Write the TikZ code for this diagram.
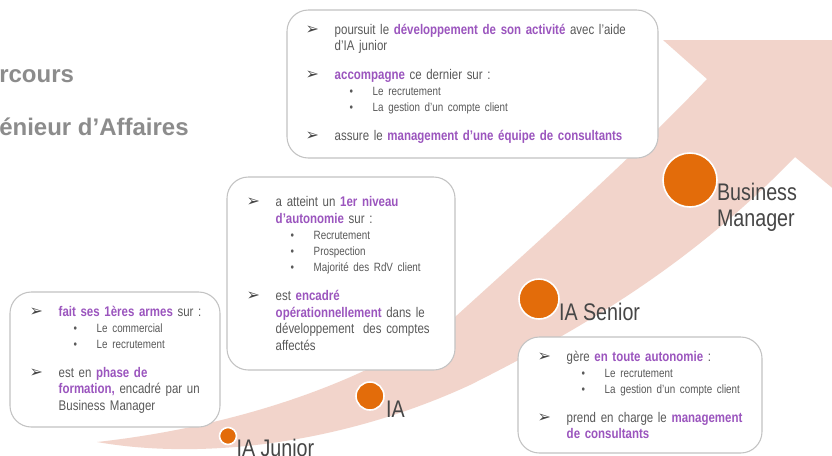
\documentclass[tikz,border=0pt]{standalone}
\usepackage{fontspec}
\setmainfont{Liberation Sans}[FakeStretch=0.82]
\newfontfamily\ttlfont{Liberation Sans}
\newfontfamily\arrfont{DejaVu Sans}
\usetikzlibrary{calc}
\definecolor{bandpink}{RGB}{242,212,203}
\definecolor{dotorange}{RGB}{227,108,10}
\definecolor{cardgray}{RGB}{195,195,195}
\definecolor{txtgray}{RGB}{89,89,89}
\definecolor{lblgray}{RGB}{70,70,70}
\definecolor{ttlgray}{RGB}{140,140,140}
\definecolor{hlpurple}{RGB}{155,85,190}

\newlength\mkw \setlength\mkw{21.75pt}
\newcommand\mainsz{\fontsize{10.5}{12.4}\selectfont}
\newcommand\subsz{\fontsize{9}{12}\selectfont}
\newcommand\mkarr{\makebox[\mkw][l]{\arrfont\fontsize{12}{12}\selectfont\color{lblgray}➢}}
\newcommand\indt{\hspace*{\mkw}}
\newcommand\subit{\hspace*{\mkw}\hspace*{11.25pt}\makebox[17.25pt][l]{•}}
\newcommand\hlt[1]{\textbf{\color{hlpurple}#1}}
\newcommand\itemgap{\par\vspace{9.4pt}}

\tikzset{
	card/.style={draw=cardgray, fill=white, line width=0.8pt, rounded corners=16pt},
	cardtxt/.style={anchor=west, text width=250pt, align=left, inner sep=0pt, text=txtgray, font=\mainsz},
	dot/.style={circle, fill=dotorange, draw=white, line width=1.2pt, inner sep=0pt},
	lbl/.style={inner sep=0pt, text=lblgray, font=\fontsize{18}{19.5}\selectfont},
	ttl/.style={inner sep=0pt, text=ttlgray, font=\ttlfont\bfseries\fontsize{18}{20}\selectfont}
}

\begin{document}
\begin{tikzpicture}[x=0.75pt, y=-0.75pt]
		\useasboundingbox (0,0) rectangle (832,455);
		\fill[white] (0,0) rectangle (832,455);
%
		\fill[bandpink] (97,442) .. controls (250,425) and (380,375) .. (455,317)
			.. controls (540,240) and (640,150) .. (707,79)
			-- (663,40) -- (860,40) -- (860,211) -- (795,157)
			.. controls (700,255) and (600,320) .. (470,385)
			.. controls (340,445) and (200,460) .. (97,442) -- cycle;
%
		\node[ttl, anchor=base west] (ttlA) at (-1,82) {rcours};
		\node[ttl, anchor=base west] (ttlB) at (-1,135) {énieur d’Affaires};
%
		\node[dot, minimum size=12.75pt] (cJ) at (228,436) {};
		\node[dot, minimum size=21pt] (cIA) at (370,396) {};
		\node[dot, minimum size=30pt] (cS) at (539,299) {};
		\node[dot, minimum size=40.5pt] (cBM) at (690,180) {};
		\node[lbl, anchor=base west] (lJ) at ($(cJ.east)+(-1,20)$) {IA Junior};
		\node[lbl, anchor=base west] (lIA) at ($(cIA.east)+(1,21)$) {IA};
		\node[lbl, anchor=base west] (lS) at ($(cS.east)+(-1,21)$) {IA Senior};
		\node[lbl, anchor=north west, align=left] (lBM) at ($(cBM.east)+(-1,3)$) {Business\\Manager};
%
		\node[card, minimum width=278.25pt, minimum height=111pt] (bBM) at (472.5,84) {};
		\node[cardtxt] (tBM) at ($(bBM.west)+(19,0)$) {%
			\mkarr poursuit le \hlt{développement de son activité} avec l’aide\\
			\indt d’IA junior\itemgap
			\mkarr\hlt{accompagne} ce dernier sur :\par
			{\subsz\subit Le recrutement\\ \subit La gestion d’un compte client\par}\itemgap
			\mkarr assure le \hlt{management d’une équipe de consultants}};
%
		\node[card, minimum width=171pt, minimum height=144.75pt] (bIA) at (341,273.5) {};
		\node[cardtxt] (tIA) at ($(bIA.west)+(20,0)$) {%
			\mkarr a atteint un \hlt{1er niveau}\\
			\indt\hlt{d’autonomie} sur :\par
			{\subsz\subit Recrutement\\ \subit Prospection\\ \subit Majorité des RdV client\par}\itemgap
			\mkarr est \hlt{encadré}\\
			\indt\hlt{opérationnellement} dans le\\
			\indt développement\hspace{0.3em} des comptes\\
			\indt affectés};
%
		\node[card, minimum width=157.5pt, minimum height=101.25pt] (bJ) at (115,359.5) {};
		\node[cardtxt] (tJ) at ($(bJ.west)+(20,0)$) {%
			\mkarr\hlt{fait ses 1ères armes} sur :\par
			{\subsz\subit Le commercial\\ \subit Le recrutement\par}\itemgap
			\mkarr est en \hlt{phase de}\\
			\indt\hlt{formation,} encadré par un\\
			\indt Business Manager};
%
		\node[card, minimum width=183pt, minimum height=87pt] (bS) at (640,395) {};
		\node[cardtxt] (tS) at ($(bS.west)+(20,0)$) {%
			\mkarr gère \hlt{en toute autonomie} :\par
			{\subsz\subit Le recrutement\\ \subit La gestion d’un compte client\par}\itemgap
			\mkarr prend en charge le \hlt{management}\\
			\indt\hlt{de consultants}};
	\end{tikzpicture}
\end{document}
